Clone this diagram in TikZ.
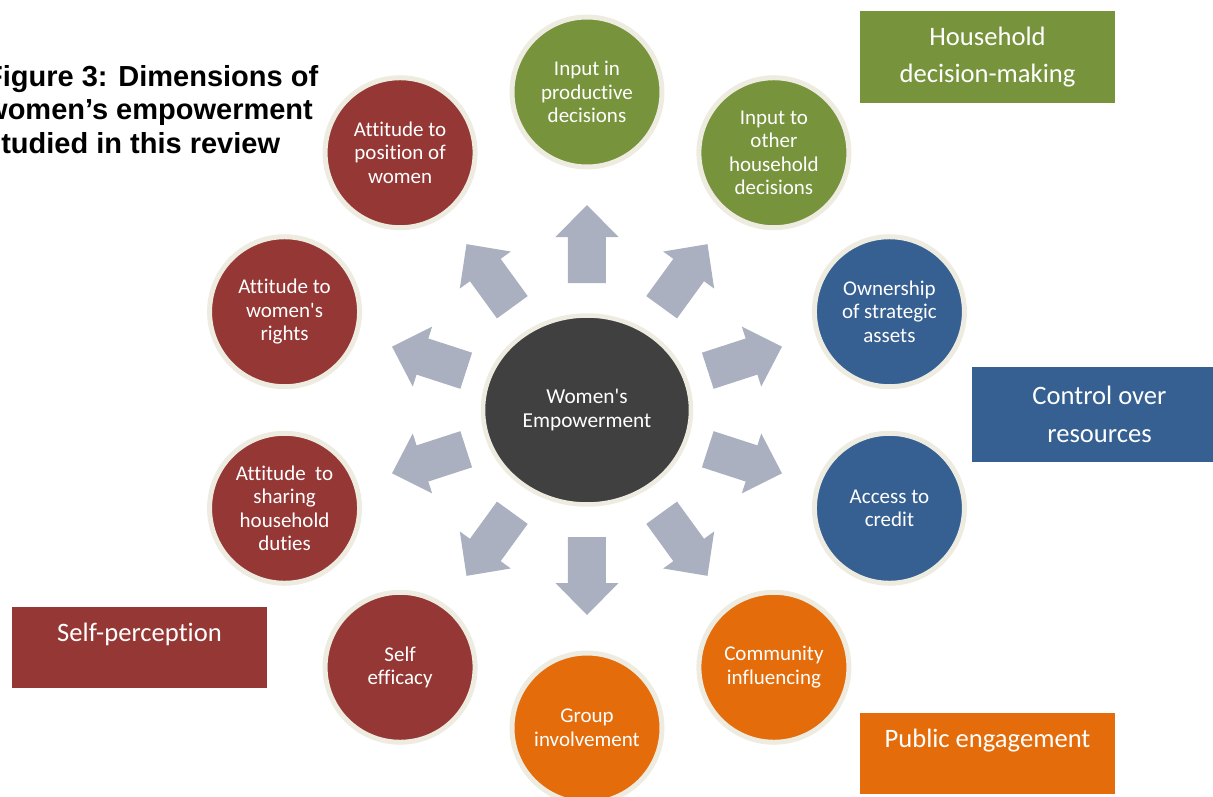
\documentclass[tikz,border=0pt]{standalone}
\usepackage{fontspec}
\setmainfont{Carlito}[Ligatures=NoCommon]
\newfontfamily\headfont{Liberation Sans}
\usetikzlibrary{shapes.geometric}
\definecolor{dgreen}{HTML}{77933C}
\definecolor{dblue}{HTML}{366092}
\definecolor{dred}{HTML}{953735}
\definecolor{dorange}{HTML}{E46C0A}
\definecolor{hubgrey}{HTML}{404040}
\definecolor{ring}{HTML}{EEECE1}
\definecolor{arrowgrey}{HTML}{AAB0C0}
\tikzset{
  every picture/.style={x=1pt, y=1pt},
  dim/.style={circle, fill=#1, draw=ring, line width=5pt, minimum size=150pt, inner sep=0pt,
    text=white, align=center, font=\fontsize{21}{23.5}\selectfont},
  hub/.style={ellipse, fill=hubgrey, draw=ring, line width=4.5pt, minimum width=208pt,
    minimum height=189pt, text=white, align=center, font=\fontsize{21.3}{23.5}\selectfont},
  tag/.style={rectangle, fill=#1, text=white, align=center, minimum width=255pt, inner sep=0pt,
    font=\fontsize{26.6}{37.5}\selectfont},
  toptag/.style={tag=#1, minimum height=81pt, text height=18pt, text depth=30pt},
  title/.style={font=\headfont\bfseries\fontsize{29}{33.5}\selectfont, align=left, inner sep=0pt},
}

\begin{document}
\begin{tikzpicture}
  \useasboundingbox (-587,-386) rectangle (626,410);
  \node[title, anchor=base west] (title) at (-602,257) {Figure 3: Dimensions of\\women’s empowerment\\studied in this review};
  \node[hub] (hub) at (0,0) {Women\textquotesingle s\\Empowerment};
  % block arrows pointing out from the hub
  \foreach \a in {90,54,18,-18,-54,-90,-126,-162,162,126}
    \fill[arrowgrey, rotate=\a] (127,-19) -- (173,-19) -- (173,-31.5) -- (205,0)
      -- (173,31.5) -- (173,19) -- (127,19) -- cycle;
  % household decision-making
  \node[dim=dgreen] (prod) at (90:318) {Input in\\productive\\decisions};
  \node[dim=dgreen] (house) at (54:318) {Input to\\other\\household\\decisions};
  % control over resources
  \node[dim=dblue] (assets) at (18:318) {Ownership\\of strategic\\assets};
  \node[dim=dblue] (credit) at (-18:318) {Access to\\credit};
  % public engagement
  \node[dim=dorange] (comm) at (-54:318) {Community\\influencing};
  \node[dim=dorange] (group) at (-90:318) {Group\\involvement};
  % self-perception
  \node[dim=dred] (efficacy) at (-126:318) {Self\\efficacy};
  \node[dim=dred] (duties) at (-162:318) {Attitude \ to\\sharing\\household\\duties};
  \node[dim=dred] (rights) at (162:318) {Attitude to\\women\textquotesingle s\\rights};
  \node[dim=dred] (position) at (126:318) {Attitude to\\position of\\women};
  % group labels
  \node[tag=dgreen, minimum height=92pt] (hdm) at (400.5,353) {Household\\decision-making};
  \node[tag=dblue, minimum height=95pt] (ctrl) at (512.5,-4.5) {Control over\\resources};
  \node[toptag=dred] (selfp) at (-447.5,-237.5) {Self-perception};
  \node[toptag=dorange] (pub) at (400.5,-343.5) {Public engagement};
\end{tikzpicture}
\end{document}
